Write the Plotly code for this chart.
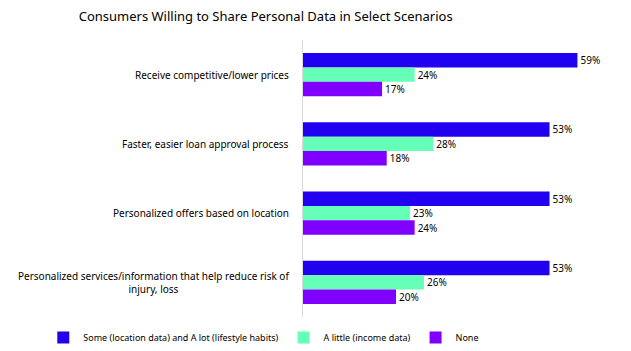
import plotly.graph_objects as go

categories = [
    "Receive competitive/lower prices",
    "Faster, easier loan approval process",
    "Personalized offers based on location",
    "Personalized services/information that help reduce risk of<br>injury, loss",
]
series_names = [
    "Some (location data) and A lot (lifestyle habits)",
    "A little (income data)",
    "None",
]
some_lot = [59, 53, 53, 53]
a_little = [24, 28, 23, 26]
none_vals = [17, 18, 24, 20]
colors = ["#2200F0", "#66FFB8", "#7F00FF"]

FONT = "Noto Sans"
fig = go.Figure()
for name, vals, c in zip(series_names, [some_lot, a_little, none_vals], colors):
    fig.add_trace(go.Bar(
        y=categories, x=vals, name=name, orientation="h",
        marker=dict(color=c, line=dict(width=0)),
        text=[f"{v}%" for v in vals], textposition="outside",
        textfont=dict(family=FONT, size=10, color="#000000"),
        cliponaxis=False,
    ))

for cat in categories:
    fig.add_annotation(
        x=0, xref="paper", y=cat, yref="y", xanchor="right", xshift=-12,
        text=cat, showarrow=False, align="center",
        font=dict(family=FONT, size=10, color="#000000"),
    )

fig.update_layout(
    width=631, height=351,
    margin=dict(l=303, r=21, t=40, b=34, autoexpand=False),
    paper_bgcolor="white", plot_bgcolor="white",
    barmode="group", bargap=0.375, bargroupgap=0,
    title=dict(text="Consumers Willing to Share Personal Data in Select Scenarios",
               x=0.421, xanchor="center", y=0.952, yanchor="middle",
               font=dict(family=FONT, size=13, color="#000000")),
    xaxis=dict(range=[0, 66], showgrid=False, zeroline=False, showticklabels=False,
               showline=False),
    yaxis=dict(autorange="reversed", showticklabels=False, showgrid=False,
               showline=True, linecolor="#D9D9D9", linewidth=1, ticks=""),
    legend=dict(orientation="h", x=-0.846, xanchor="left", y=-0.022, yanchor="top",
                font=dict(family=FONT, size=9, color="#000000"),
                itemwidth=30, tracegroupgap=0),
    showlegend=True,
)
fig.write_html("out.html")
